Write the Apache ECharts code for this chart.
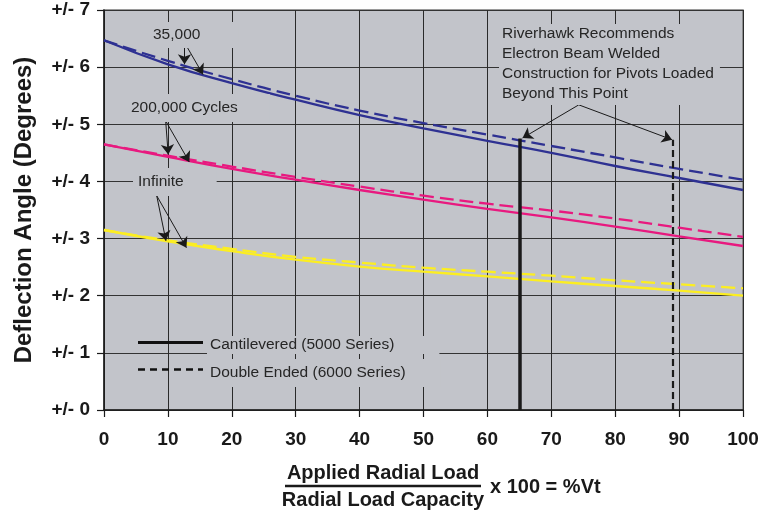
<!DOCTYPE html>
<html>
<head>
<meta charset="utf-8">
<script src="https://cdn.jsdelivr.net/npm/echarts@6/dist/echarts.min.js"></script>
<style>html,body{margin:0;padding:0;background:#fff;}#c{width:775px;height:514px;}</style>
</head>
<body>
<div id="c"></div>
<script>
var xValues = [0, 10, 20, 30, 40, 50, 60, 70, 80, 90, 100];
var yTicks = [0, 1, 2, 3, 4, 5, 6, 7];
var blueSolid   = [6.47, 6.05, 5.72, 5.43, 5.16, 4.93, 4.71, 4.50, 4.27, 4.06, 3.85];
var blueDashed  = [6.47, 6.11, 5.79, 5.50, 5.24, 5.02, 4.82, 4.62, 4.42, 4.22, 4.03];
var pinkSolid   = [4.65, 4.43, 4.22, 4.03, 3.85, 3.68, 3.52, 3.37, 3.21, 3.04, 2.87];
var pinkDashed  = [4.65, 4.45, 4.26, 4.08, 3.91, 3.75, 3.61, 3.49, 3.35, 3.19, 3.03];
var yellowSolid = [3.15, 2.95, 2.78, 2.63, 2.51, 2.42, 2.34, 2.25, 2.17, 2.09, 2.00];
var yellowDashed= [3.15, 2.97, 2.82, 2.68, 2.58, 2.49, 2.42, 2.35, 2.27, 2.20, 2.13];
var cantileverLimit = [65, 4.75];
var doubleEndedLimit = [89, 4.73];
var arrows = [
  [[12.6, 6.43], [12.6, 6.05]],
  [[12.6, 6.43], [15.5, 5.87]],
  [[9.65, 5.06], [10.05, 4.47]],
  [[9.65, 5.06], [13.35, 4.34]],
  [[8.25, 3.75], [9.7, 2.96]],
  [[8.25, 3.75], [12.9, 2.84]],
  [[74.3, 5.34], [65.5, 4.76]],
  [[74.3, 5.34], [88.9, 4.73]]
];

var BG = '#c2c4ca';
var BLUE = '#2e3192', PINK = '#e8197f', YELLOW = '#fcee21';

function pairs(vals) { return xValues.map(function (x, i) { return [x, vals[i]]; }); }
function curve(vals, color, dashed) {
  return {
    type: 'line', data: pairs(vals), smooth: true, showSymbol: false, silent: true,
    lineStyle: { color: color, width: 2.3, type: dashed ? [14, 6] : 'solid' }, z: 3
  };
}

var chart = echarts.init(document.getElementById('c'));
var textFont = '15.5px "Liberation Sans", Arial, sans-serif';
var textColor = '#262626';
function label(txt, x, y, pad) {
  return {
    type: 'text', z: 50, x: x, y: y,
    style: { text: txt, font: textFont, fill: textColor, textVerticalAlign: 'middle',
             backgroundColor: BG, padding: pad }
  };
}

chart.setOption({
  animation: false,
  grid: { left: 104, right: 32, top: 10, bottom: 104, show: true, backgroundColor: BG,
          borderColor: '#7a7a7a', borderWidth: 1.5 },
  xAxis: {
    type: 'value', min: 0, max: 100, interval: 10,
    axisLine: { show: true, lineStyle: { color: '#1a1a1a', width: 1.5 } },
    axisTick: { show: true, length: 7, lineStyle: { color: '#1a1a1a', width: 1.2 } },
    splitLine: { show: true, lineStyle: { color: '#2a2a2a', width: 1 } },
    axisLabel: { margin: 20, color: '#1a1a1a', fontSize: 19, fontWeight: 'bold',
                 fontFamily: '"Liberation Sans", Arial, sans-serif' }
  },
  yAxis: {
    type: 'value', min: 0, max: 7, interval: 1,
    axisLine: { show: true, lineStyle: { color: '#1a1a1a', width: 1.5 } },
    axisTick: { show: true, length: 7, lineStyle: { color: '#1a1a1a', width: 1.2 } },
    splitLine: { show: true, lineStyle: { color: '#333', width: 1.2 } },
    axisLabel: { margin: 14, color: '#1a1a1a', fontSize: 19, fontWeight: 'bold',
                 fontFamily: '"Liberation Sans", Arial, sans-serif',
                 formatter: function (v) { return '+/- ' + v; } }
  },
  series: [
    curve(blueSolid, BLUE, false),
    curve(blueDashed, BLUE, true),
    curve(pinkSolid, PINK, false),
    curve(pinkDashed, PINK, true),
    curve(yellowSolid, YELLOW, false),
    curve(yellowDashed, YELLOW, true),
    {
      type: 'line', data: [], silent: true, z: 6,
      markLine: {
        silent: true, animation: false, symbol: ['none', 'none'], label: { show: false },
        data: [
          [{ coord: [cantileverLimit[0], 0], lineStyle: { color: '#1a1a1a', width: 3.5, type: 'solid' } },
           { coord: cantileverLimit }],
          [{ coord: [doubleEndedLimit[0], 0], lineStyle: { color: '#1a1a1a', width: 2.2, type: [7, 4] } },
           { coord: doubleEndedLimit }]
        ]
      }
    },
    {
      type: 'line', data: [], silent: true, z: 60,
      markLine: {
        silent: true, animation: false, symbol: ['none', 'arrow'], symbolSize: 10,
        label: { show: false },
        lineStyle: { color: '#1a1a1a', width: 1, type: 'solid' },
        data: arrows.map(function (a) { return [{ coord: a[0] }, { coord: a[1] }]; })
      }
    }
  ],
  graphic: [
    label('35,000', 147, 35, [5, 38, 5, 6]),
    label('200,000 Cycles', 123, 108, [6, 32, 6, 8]),
    label('Infinite', 133, 182, [6, 33, 6, 5]),
    label('Cantilevered (5000 Series)', 207, 345, [1, 45, 1, 3]),
    label('Double Ended (6000 Series)', 207, 373, [6, 35, 6, 3]),
    {
      type: 'text', z: 50, x: 499, y: 24,
      style: { text: 'Riverhawk Recommends\nElectron Beam Welded\nConstruction for Pivots Loaded\nBeyond This Point',
               font: textFont, fill: textColor, lineHeight: 20, textVerticalAlign: 'top',
               backgroundColor: BG, padding: [0, 6, 1, 3] }
    },
    { type: 'line', z: 55, shape: { x1: 138, y1: 342.5, x2: 203, y2: 342.5 },
      style: { stroke: '#111', lineWidth: 3 } },
    { type: 'line', z: 55, shape: { x1: 138, y1: 369.5, x2: 203, y2: 369.5 },
      style: { stroke: '#111', lineWidth: 2.5, lineDash: [7, 5] } },
    {
      type: 'text', z: 50, x: 24, y: 210, rotation: Math.PI / 2,
      style: { text: 'Deflection Angle (Degrees)', font: 'bold 24px "Liberation Sans", Arial, sans-serif',
               fill: '#1a1a1a', textAlign: 'center', textVerticalAlign: 'middle' }
    },
    {
      type: 'text', z: 50, x: 383, y: 473,
      style: { text: 'Applied Radial Load', font: 'bold 20px "Liberation Sans", Arial, sans-serif',
               fill: '#1a1a1a', textAlign: 'center', textVerticalAlign: 'middle' }
    },
    { type: 'line', z: 50, shape: { x1: 285, y1: 486, x2: 481, y2: 486 },
      style: { stroke: '#1a1a1a', lineWidth: 2.5 } },
    {
      type: 'text', z: 50, x: 383, y: 500,
      style: { text: 'Radial Load Capacity', font: 'bold 20px "Liberation Sans", Arial, sans-serif',
               fill: '#1a1a1a', textAlign: 'center', textVerticalAlign: 'middle' }
    },
    {
      type: 'text', z: 50, x: 490, y: 487,
      style: { text: 'x 100 = %Vt', font: 'bold 20px "Liberation Sans", Arial, sans-serif',
               fill: '#1a1a1a', textAlign: 'left', textVerticalAlign: 'middle' }
    }
  ]
});
</script>
</body>
</html>
